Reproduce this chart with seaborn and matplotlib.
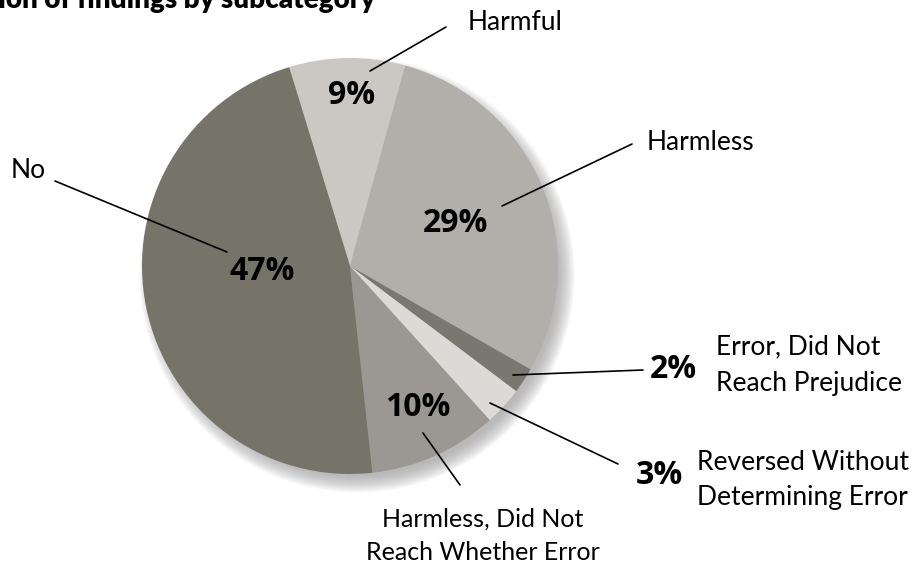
import matplotlib
matplotlib.use("Agg")
import matplotlib.pyplot as plt
import seaborn as sns
from matplotlib.patches import Circle

# data: clockwise from the top
categories = ["Harmful", "Harmless", "Error, Did Not\nReach Prejudice",
              "Reversed Without\nDetermining Error",
              "Harmless, Did Not\nReach Whether Error", "No"]
shares = [9, 29, 2, 3, 10, 47]
colors = ["#cbc8c4", "#b2afaa", "#7a7770", "#dcd9d6", "#9b9792", "#767369"]

sns.set_theme(style="white")
plt.rcParams['font.family'] = ['Lato', 'DejaVu Sans']
plt.rcParams['text.color'] = 'black'

W, H = 924, 565
R = 208.0
cx, cy = 350, 266


def px(x, y):
    # pixel position -> data coords (pie radius = 1)
    return ((x - cx) / R, (cy - y) / R)


fig = plt.figure(figsize=(9.24, 5.65), dpi=100)
ax = fig.add_axes([0, 0, 1, 1])

# soft drop shadow
sx, sy = px(cx + 7, cy + 9)
n = 14
for i in range(n):
    r = 1.045 - i * 0.006
    ax.add_patch(Circle((sx, sy), r, color="#9a9a9a", alpha=0.07, lw=0, zorder=0))

ax.pie(shares, colors=colors, startangle=107, counterclock=False,
       radius=1, wedgeprops=dict(linewidth=0, zorder=2))

ax.set_xlim(-cx / R, (W - cx) / R)
ax.set_ylim((cy - H) / R, cy / R)
ax.set_aspect('auto')
ax.axis('off')

# layout (pixels): percent label, name label, leader line
pct_pos = [(352, 95), (455, 223), (673, 369), (659, 476), (418, 408), (262, 272)]
name_pos = [(515, 22), (700, 143), (716, 365), (697, 480), (483, 536), (28, 170)]
name_ha = ["center", "center", "left", "left", "center", "center"]
leaders = [((370, 71), (446, 27)), ((502, 206), (632, 144)),
           ((513, 375), (643, 370)), ((490, 403), (618, 464)),
           ((423, 433), (460, 485)), ((227, 252), (55, 181))]

for i, cat in enumerate(categories):
    x, y = px(*pct_pos[i])
    ax.text(x, y, f"{shares[i]}%", fontsize=23, fontweight="bold",
            family=["Open Sans", "DejaVu Sans"],
            ha="center", va="center", zorder=5)
    x, y = px(*name_pos[i])
    fs = 18 if i == 4 else 19
    ax.text(x, y, cat, fontsize=fs, ha=name_ha[i], va="center",
            linespacing=1.55, zorder=5)
    (x0, y0), (x1, y1) = px(*leaders[i][0]), px(*leaders[i][1])
    ax.plot([x0, x1], [y0, y1], color="black", lw=1.2, zorder=4)

# title (cut off at the left edge in the original)
fig.text(375 / W, 1 - 8 / H, "Distribution of findings by subcategory",
         fontsize=20, fontweight="heavy", ha="right", va="baseline")

fig.savefig("out.png", dpi=100)
